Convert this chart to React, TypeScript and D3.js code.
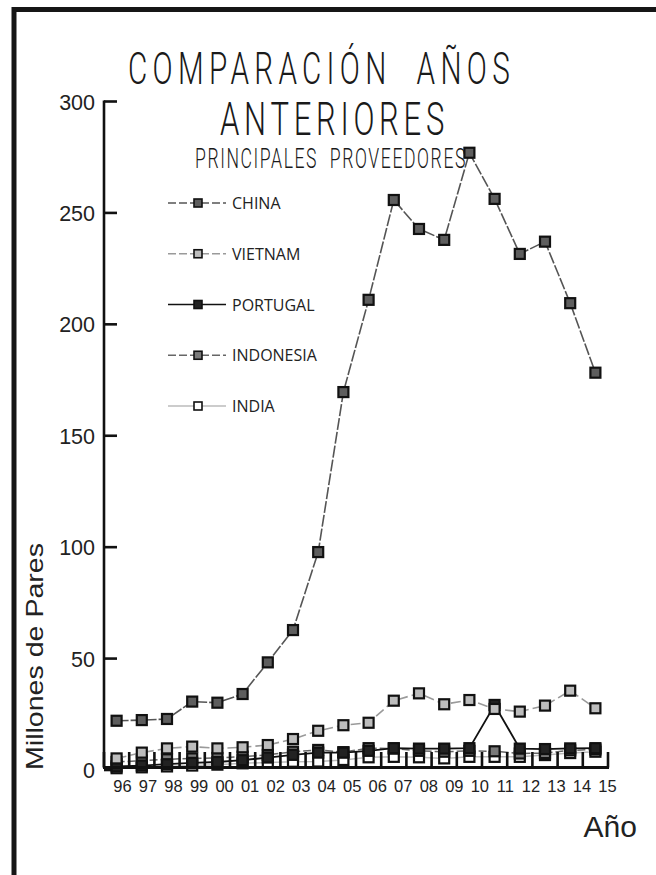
import React from "react";
import * as d3 from "d3";

const years = ["96","97","98","99","00","01","02","03","04","05","06","07","08","09","10","11","12","13","14","15"];
const yTicks = [0, 50, 100, 150, 200, 250, 300];

const china = [22.1, 22.4, 22.9, 30.7, 30.2, 34.1, 48.3, 62.8, 97.8, 169.6, 211, 255.8, 242.8, 237.9, 277, 256.3, 231.6, 237.1, 209.5, 178.3];
const vietnam = [5.2, 7.8, 9.7, 10.5, 9.7, 10.2, 11.2, 13.9, 17.6, 20.1, 21.2, 31.1, 34.4, 29.5, 31.4, 27.4, 26.2, 28.9, 35.6, 27.7];
const portugal = [1.6, 2.0, 2.6, 3.2, 3.6, 4.4, 5.6, 6.8, 7.8, 7.8, 8.6, 9.8, 9.6, 9.6, 9.8, 29.2, 9.6, 9.4, 9.7, 9.8];
const indonesia = [3.6, 4.2, 4.8, 5.2, 5.4, 6.0, 6.8, 8.2, 9.0, 8.0, 9.8, 9.6, 8.6, 8.2, 8.6, 8.4, 7.4, 7.6, 8.8, 9.2];
const india = [0.8, 1.2, 1.6, 2.0, 2.4, 3.0, 3.4, 3.7, 3.8, 4.5, 5.7, 5.9, 5.7, 5.2, 5.9, 5.9, 5.9, 6.7, 7.6, 8.2];

const seriesNames = ["CHINA", "VIETNAM", "PORTUGAL", "INDONESIA", "INDIA"];

type Style = { line: string; width: number; dash: string; fill: string };
const styles: Record<string, Style> = {
  CHINA: { line: "#555", width: 1.6, dash: "12,2", fill: "#5e5e5e" },
  VIETNAM: { line: "#9a9a9a", width: 1.6, dash: "10,4", fill: "#bdbdbd" },
  PORTUGAL: { line: "#111", width: 1.8, dash: "", fill: "#222" },
  INDONESIA: { line: "#666", width: 1.5, dash: "8,3", fill: "#7a7a7a" },
  INDIA: { line: "#bbb", width: 1.5, dash: "", fill: "#ffffff" },
};
const dataBy: Record<string, number[]> = {
  CHINA: china,
  VIETNAM: vietnam,
  PORTUGAL: portugal,
  INDONESIA: indonesia,
  INDIA: india,
};
const drawOrder = ["INDIA", "INDONESIA", "PORTUGAL", "VIETNAM", "CHINA"];

export default function App() {
  const W = 656, H = 875;
  const x = d3.scaleBand<string>().domain(years).range([104, 608]).paddingInner(0).paddingOuter(0);
  const bw = x.bandwidth();
  const cx = (yr: string) => (x(yr) as number) + bw / 2;
  const y = d3.scaleLinear().domain([0, 300]).range([770, 101.5]);
  const labelX = d3.scalePoint<string>().domain(years).range([122.5, 607.5]);
  const legendY = d3.scalePoint<string>().domain(seriesNames).range([203, 406]);
  const axisY = 767.5;
  const sans = "'Liberation Sans', Arial, sans-serif";
  const titleFont = "Roboto, 'DejaVu Sans', sans-serif";

  const boundaries = years.map((yr) => x(yr) as number).concat([608]);

  return (
    <svg width={W} height={H} style={{ position: "absolute", left: 0, top: 0, background: "#fff" }}>
      <rect x={0} y={0} width={W} height={H} fill="#fff" />
      <rect x={14} y={9.5} width={720} height={920} fill="#fff" stroke="#161616" strokeWidth={5} />

      {/* Title */}
      <text x={128} y={84} fontFamily={titleFont} fontWeight={300} fontSize={45} letterSpacing={8}
        textLength={387} lengthAdjust="spacingAndGlyphs" fill="#1a1a1a" style={{ whiteSpace: "pre" }}>
        {"COMPARACIÓN  AÑOS"}
      </text>
      <text x={220} y={135} fontFamily={titleFont} fontWeight={300} fontSize={46} letterSpacing={7}
        textLength={229} lengthAdjust="spacingAndGlyphs" fill="#1a1a1a">
        ANTERIORES
      </text>
      <text x={195} y={168} fontFamily={titleFont} fontWeight={300} fontSize={28} letterSpacing={2.5}
        textLength={272} lengthAdjust="spacingAndGlyphs" fill="#1a1a1a" style={{ whiteSpace: "pre" }}>
        {"PRINCIPALES  PROVEEDORES"}
      </text>

      {/* Y axis */}
      <line x1={104} x2={104} y1={y(300) - 1} y2={axisY} stroke="#111" strokeWidth={2.6} />
      {yTicks.map((t) => (
        <g key={t}>
          <line x1={104} x2={117} y1={y(t)} y2={y(t)} stroke="#111" strokeWidth={2.6} />
          <text x={95} y={y(t) + 8} textAnchor="end" fontFamily={sans} fontSize={21.5} fill="#222">
            {t}
          </text>
        </g>
      ))}
      <text transform={`translate(43,656.5) rotate(-90)`} textAnchor="middle" fontFamily={sans}
        fontSize={24} textLength={227} lengthAdjust="spacingAndGlyphs" fill="#222">
        Millones de Pares
      </text>

      {/* series */}
      {drawOrder.map((name) => {
        const st = styles[name];
        const vals = dataBy[name];
        const line = d3
          .line<number>()
          .x((_, i) => cx(years[i]))
          .y((d) => y(d));
        return (
          <g key={name}>
            <path d={line(vals) || ""} fill="none" stroke={st.line} strokeWidth={st.width}
              strokeDasharray={st.dash || undefined} />
            {vals.map((v, i) => (
              <rect key={i} x={cx(years[i]) - 5} y={y(v) - 5} width={10} height={10}
                fill={st.fill} stroke="#111" strokeWidth={2.2} />
            ))}
          </g>
        );
      })}

      {/* X axis */}
      <line x1={103} x2={609} y1={axisY} y2={axisY} stroke="#111" strokeWidth={3} />
      {boundaries.map((bx, i) => (
        <line key={i} x1={bx} x2={bx} y1={axisY} y2={752} stroke="#111" strokeWidth={2.6} />
      ))}
      {years.map((yr) => (
        <text key={yr} x={labelX(yr)} y={792} textAnchor="middle" fontFamily={sans} fontSize={16.5} fill="#222">
          {yr}
        </text>
      ))}
      <text x={637} y={837} textAnchor="end" fontFamily={sans} fontSize={30} fill="#222">
        Año
      </text>

      {/* Legend */}
      {seriesNames.map((name) => {
        const st = styles[name];
        const ly = legendY(name) as number;
        return (
          <g key={name}>
            <line x1={168} x2={226} y1={ly} y2={ly} stroke={st.line} strokeWidth={1.6}
              strokeDasharray={st.dash ? "8,3" : undefined} />
            <rect x={194} y={ly - 4} width={8} height={8} fill={st.fill} stroke="#111" strokeWidth={1.6} />
            <text x={232} y={ly + 6} fontFamily="'Open Sans', sans-serif" fontSize={16} fill="#222">
              {name}
            </text>
          </g>
        );
      })}
    </svg>
  );
}
